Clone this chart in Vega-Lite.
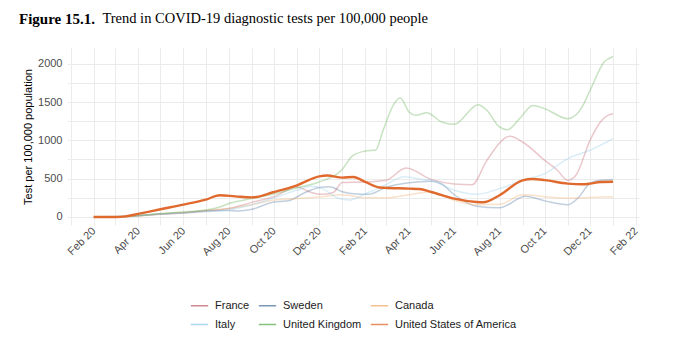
{
  "$schema": "https://vega.github.io/schema/vega-lite/v6.json",
  "width": 572,
  "height": 177,
  "autosize": {"type": "none"},
  "padding": {"left": 67, "top": 48, "right": 38, "bottom": 116},
  "background": "white",
  "title": {
    "text": "Figure 15.1.",
    "subtitle": "\u200b\u00a0\u00a0\u00a0\u00a0\u00a0\u00a0\u00a0\u00a0\u00a0\u00a0\u00a0\u00a0\u00a0\u00a0\u00a0\u00a0\u00a0\u00a0\u00a0\u00a0\u00a0\u00a0\u00a0Trend in COVID-19 diagnostic tests per 100,000 people",
    "anchor": "start",
    "frame": "group",
    "dx": -48,
    "offset": 21,
    "font": "Liberation Serif",
    "fontSize": 15,
    "fontWeight": "bold",
    "color": "black",
    "subtitleFont": "Liberation Serif",
    "subtitleFontSize": 14.5,
    "subtitleFontWeight": "normal",
    "subtitleColor": "black",
    "subtitlePadding": -14.5
  },
  "data": {
    "values": [
      {"d":"2020-02-01","c":"France","v":0},{"d":"2020-03-01","c":"France","v":2},{"d":"2020-04-01","c":"France","v":15},{"d":"2020-05-01","c":"France","v":35},{"d":"2020-06-01","c":"France","v":50},{"d":"2020-07-01","c":"France","v":75},{"d":"2020-08-01","c":"France","v":110},{"d":"2020-09-01","c":"France","v":190},{"d":"2020-10-01","c":"France","v":265},{"d":"2020-11-01","c":"France","v":390},{"d":"2020-11-20","c":"France","v":320},{"d":"2020-12-05","c":"France","v":295},{"d":"2020-12-20","c":"France","v":320},{"d":"2021-01-01","c":"France","v":450},{"d":"2021-02-01","c":"France","v":455},{"d":"2021-03-01","c":"France","v":478},{"d":"2021-03-28","c":"France","v":639},{"d":"2021-05-01","c":"France","v":490},{"d":"2021-06-01","c":"France","v":430},{"d":"2021-06-25","c":"France","v":420},{"d":"2021-07-15","c":"France","v":739},{"d":"2021-08-15","c":"France","v":1052},{"d":"2021-09-01","c":"France","v":978},{"d":"2021-10-01","c":"France","v":739},{"d":"2021-10-18","c":"France","v":609},{"d":"2021-11-01","c":"France","v":478},{"d":"2021-11-12","c":"France","v":543},{"d":"2021-12-01","c":"France","v":1000},{"d":"2021-12-15","c":"France","v":1239},{"d":"2021-12-25","c":"France","v":1326},{"d":"2022-01-01","c":"France","v":1348},
      {"d":"2020-02-01","c":"Sweden","v":0},{"d":"2020-03-01","c":"Sweden","v":3},{"d":"2020-04-01","c":"Sweden","v":18},{"d":"2020-05-01","c":"Sweden","v":38},{"d":"2020-06-01","c":"Sweden","v":55},{"d":"2020-07-01","c":"Sweden","v":80},{"d":"2020-08-01","c":"Sweden","v":85},{"d":"2020-08-15","c":"Sweden","v":78},{"d":"2020-09-01","c":"Sweden","v":100},{"d":"2020-10-01","c":"Sweden","v":195},{"d":"2020-10-20","c":"Sweden","v":210},{"d":"2020-11-10","c":"Sweden","v":310},{"d":"2020-12-01","c":"Sweden","v":385},{"d":"2020-12-15","c":"Sweden","v":395},{"d":"2021-01-01","c":"Sweden","v":330},{"d":"2021-01-20","c":"Sweden","v":300},{"d":"2021-02-05","c":"Sweden","v":295},{"d":"2021-03-01","c":"Sweden","v":385},{"d":"2021-04-01","c":"Sweden","v":445},{"d":"2021-05-01","c":"Sweden","v":465},{"d":"2021-05-15","c":"Sweden","v":430},{"d":"2021-06-01","c":"Sweden","v":290},{"d":"2021-07-01","c":"Sweden","v":140},{"d":"2021-08-01","c":"Sweden","v":120},{"d":"2021-09-05","c":"Sweden","v":270},{"d":"2021-10-01","c":"Sweden","v":210},{"d":"2021-11-01","c":"Sweden","v":160},{"d":"2021-11-15","c":"Sweden","v":250},{"d":"2021-12-01","c":"Sweden","v":440},{"d":"2021-12-15","c":"Sweden","v":480},{"d":"2022-01-01","c":"Sweden","v":487},
      {"d":"2020-02-01","c":"Canada","v":0},{"d":"2020-03-01","c":"Canada","v":2},{"d":"2020-04-01","c":"Canada","v":15},{"d":"2020-05-01","c":"Canada","v":40},{"d":"2020-06-01","c":"Canada","v":60},{"d":"2020-07-01","c":"Canada","v":85},{"d":"2020-08-01","c":"Canada","v":110},{"d":"2020-09-01","c":"Canada","v":160},{"d":"2020-10-01","c":"Canada","v":220},{"d":"2020-11-01","c":"Canada","v":240},{"d":"2020-12-01","c":"Canada","v":260},{"d":"2021-01-01","c":"Canada","v":290},{"d":"2021-02-01","c":"Canada","v":250},{"d":"2021-03-01","c":"Canada","v":250},{"d":"2021-04-01","c":"Canada","v":290},{"d":"2021-05-01","c":"Canada","v":330},{"d":"2021-06-01","c":"Canada","v":218},{"d":"2021-07-01","c":"Canada","v":160},{"d":"2021-08-01","c":"Canada","v":165},{"d":"2021-09-01","c":"Canada","v":290},{"d":"2021-10-01","c":"Canada","v":265},{"d":"2021-11-01","c":"Canada","v":245},{"d":"2021-12-01","c":"Canada","v":255},{"d":"2022-01-01","c":"Canada","v":261},
      {"d":"2020-02-01","c":"Italy","v":0},{"d":"2020-03-01","c":"Italy","v":5},{"d":"2020-04-01","c":"Italy","v":20},{"d":"2020-05-01","c":"Italy","v":40},{"d":"2020-06-01","c":"Italy","v":55},{"d":"2020-07-01","c":"Italy","v":70},{"d":"2020-08-01","c":"Italy","v":95},{"d":"2020-09-01","c":"Italy","v":160},{"d":"2020-10-01","c":"Italy","v":250},{"d":"2020-11-01","c":"Italy","v":350},{"d":"2020-11-20","c":"Italy","v":400},{"d":"2020-12-05","c":"Italy","v":370},{"d":"2020-12-25","c":"Italy","v":250},{"d":"2021-01-10","c":"Italy","v":220},{"d":"2021-02-01","c":"Italy","v":300},{"d":"2021-03-01","c":"Italy","v":420},{"d":"2021-03-25","c":"Italy","v":525},{"d":"2021-04-20","c":"Italy","v":490},{"d":"2021-05-01","c":"Italy","v":478},{"d":"2021-06-01","c":"Italy","v":348},{"d":"2021-07-01","c":"Italy","v":296},{"d":"2021-08-01","c":"Italy","v":370},{"d":"2021-09-01","c":"Italy","v":478},{"d":"2021-10-01","c":"Italy","v":565},{"d":"2021-11-01","c":"Italy","v":761},{"d":"2021-12-01","c":"Italy","v":870},{"d":"2022-01-01","c":"Italy","v":1022},
      {"d":"2020-02-01","c":"United Kingdom","v":0},{"d":"2020-03-01","c":"United Kingdom","v":2},{"d":"2020-04-01","c":"United Kingdom","v":15},{"d":"2020-05-01","c":"United Kingdom","v":45},{"d":"2020-06-01","c":"United Kingdom","v":65},{"d":"2020-07-01","c":"United Kingdom","v":90},{"d":"2020-07-20","c":"United Kingdom","v":130},{"d":"2020-08-01","c":"United Kingdom","v":175},{"d":"2020-09-01","c":"United Kingdom","v":240},{"d":"2020-10-01","c":"United Kingdom","v":300},{"d":"2020-11-01","c":"United Kingdom","v":380},{"d":"2020-12-01","c":"United Kingdom","v":457},{"d":"2021-01-01","c":"United Kingdom","v":620},{"d":"2021-01-15","c":"United Kingdom","v":800},{"d":"2021-02-01","c":"United Kingdom","v":860},{"d":"2021-02-15","c":"United Kingdom","v":875},{"d":"2021-02-25","c":"United Kingdom","v":1130},{"d":"2021-03-12","c":"United Kingdom","v":1478},{"d":"2021-03-20","c":"United Kingdom","v":1557},{"d":"2021-04-01","c":"United Kingdom","v":1369},{"d":"2021-04-10","c":"United Kingdom","v":1326},{"d":"2021-04-25","c":"United Kingdom","v":1361},{"d":"2021-05-15","c":"United Kingdom","v":1239},{"d":"2021-06-01","c":"United Kingdom","v":1209},{"d":"2021-07-03","c":"United Kingdom","v":1465},{"d":"2021-07-15","c":"United Kingdom","v":1391},{"d":"2021-08-01","c":"United Kingdom","v":1174},{"d":"2021-08-12","c":"United Kingdom","v":1139},{"d":"2021-08-28","c":"United Kingdom","v":1283},{"d":"2021-09-15","c":"United Kingdom","v":1456},{"d":"2021-10-01","c":"United Kingdom","v":1413},{"d":"2021-11-01","c":"United Kingdom","v":1283},{"d":"2021-11-20","c":"United Kingdom","v":1430},{"d":"2021-12-01","c":"United Kingdom","v":1650},{"d":"2021-12-20","c":"United Kingdom","v":2021},{"d":"2022-01-01","c":"United Kingdom","v":2095},
      {"d":"2020-02-01","c":"United States of America","v":0},{"d":"2020-03-01","c":"United States of America","v":0},{"d":"2020-03-15","c":"United States of America","v":8},{"d":"2020-04-01","c":"United States of America","v":40},{"d":"2020-05-01","c":"United States of America","v":100},{"d":"2020-06-01","c":"United States of America","v":161},{"d":"2020-07-01","c":"United States of America","v":226},{"d":"2020-07-20","c":"United States of America","v":283},{"d":"2020-08-10","c":"United States of America","v":268},{"d":"2020-09-01","c":"United States of America","v":255},{"d":"2020-10-01","c":"United States of America","v":326},{"d":"2020-11-01","c":"United States of America","v":413},{"d":"2020-12-01","c":"United States of America","v":530},{"d":"2020-12-12","c":"United States of America","v":541},{"d":"2021-01-01","c":"United States of America","v":513},{"d":"2021-01-16","c":"United States of America","v":522},{"d":"2021-02-01","c":"United States of America","v":457},{"d":"2021-02-20","c":"United States of America","v":385},{"d":"2021-04-01","c":"United States of America","v":370},{"d":"2021-04-15","c":"United States of America","v":365},{"d":"2021-05-01","c":"United States of America","v":326},{"d":"2021-06-01","c":"United States of America","v":240},{"d":"2021-07-01","c":"United States of America","v":196},{"d":"2021-07-10","c":"United States of America","v":192},{"d":"2021-08-01","c":"United States of America","v":283},{"d":"2021-09-01","c":"United States of America","v":478},{"d":"2021-09-15","c":"United States of America","v":495},{"d":"2021-10-01","c":"United States of America","v":480},{"d":"2021-11-01","c":"United States of America","v":435},{"d":"2021-11-20","c":"United States of America","v":426},{"d":"2021-12-01","c":"United States of America","v":435},{"d":"2021-12-15","c":"United States of America","v":457},{"d":"2022-01-01","c":"United States of America","v":460}
    ],
    "format": {"parse": {"d": "date:'%Y-%m-%d'"}}
  },
  "mark": {"type": "line", "interpolate": "monotone"},
  "encoding": {
    "x": {
      "field": "d",
      "type": "temporal",
      "scale": {"domain": [{"year": 2019, "month": 12, "date": 27}, {"year": 2022, "month": 2, "date": 5}]},
      "axis": {
        "title": null,
        "values": [
          {"year":2020,"month":1,"date":1},{"year":2020,"month":2,"date":1},{"year":2020,"month":3,"date":1},{"year":2020,"month":4,"date":1},{"year":2020,"month":5,"date":1},{"year":2020,"month":6,"date":1},{"year":2020,"month":7,"date":1},{"year":2020,"month":8,"date":1},{"year":2020,"month":9,"date":1},{"year":2020,"month":10,"date":1},{"year":2020,"month":11,"date":1},{"year":2020,"month":12,"date":1},
          {"year":2021,"month":1,"date":1},{"year":2021,"month":2,"date":1},{"year":2021,"month":3,"date":1},{"year":2021,"month":4,"date":1},{"year":2021,"month":5,"date":1},{"year":2021,"month":6,"date":1},{"year":2021,"month":7,"date":1},{"year":2021,"month":8,"date":1},{"year":2021,"month":9,"date":1},{"year":2021,"month":10,"date":1},{"year":2021,"month":11,"date":1},{"year":2021,"month":12,"date":1},
          {"year":2022,"month":1,"date":1},{"year":2022,"month":2,"date":1}
        ],
        "labelExpr": "month(datum.value) % 2 == 1 ? timeFormat(datum.value, '%b %y') : ''",
        "labelAngle": -45,
        "labelAlign": "right",
        "labelBaseline": "middle",
        "labelPadding": 4,
        "labelOverlap": false,
        "labelBound": false,
        "labelFlush": false
      }
    },
    "y": {
      "field": "v",
      "type": "quantitative",
      "scale": {"domain": [-105, 2205], "nice": false, "zero": false},
      "axis": {
        "title": "Test per 100,000 population",
        "values": [0, 250, 500, 750, 1000, 1250, 1500, 1750, 2000],
        "labelExpr": "datum.value % 500 == 0 ? format(datum.value, 'd') : ''",
        "labelPadding": 5,
        "titlePadding": 4
      }
    },
    "color": {
      "field": "c",
      "type": "nominal",
      "scale": {
        "domain": ["France", "Sweden", "Canada", "Italy", "United Kingdom", "United States of America"],
        "range": ["#c4606e", "#4f76a0", "#f0ad6a", "#8ecbe8", "#5fae50", "#e06a2e"]
      },
      "legend": {
        "title": null,
        "orient": "bottom",
        "direction": "horizontal",
        "columns": 3,
        "symbolType": "stroke",
        "symbolSize": 300,
        "symbolStrokeWidth": 1.5,
        "symbolOpacity": 0.75,
        "labelFontSize": 11,
        "labelColor": "#1a1a1a",
        "labelFont": "Liberation Sans",
        "columnPadding": 5,
        "rowPadding": 4,
        "labelOffset": 6,
        "offset": 38
      }
    },
    "opacity": {"condition": {"test": "datum.c === 'United States of America'", "value": 1}, "value": 0.35},
    "strokeWidth": {"condition": {"test": "datum.c === 'United States of America'", "value": 2.4}, "value": 1.5}
  },
  "config": {
    "view": {"stroke": null},
    "font": "Liberation Sans",
    "legend": {"layout": {"bottom": {"anchor": "middle"}}},
    "axis": {
      "domain": false,
      "ticks": false,
      "grid": true,
      "gridColor": "#ebebeb",
      "gridWidth": 1,
      "labelFont": "Liberation Sans",
      "labelFontSize": 11,
      "labelColor": "#4d4d4d",
      "titleFont": "Liberation Sans",
      "titleFontSize": 11,
      "titleFontWeight": "normal",
      "titleColor": "black"
    }
  }
}
